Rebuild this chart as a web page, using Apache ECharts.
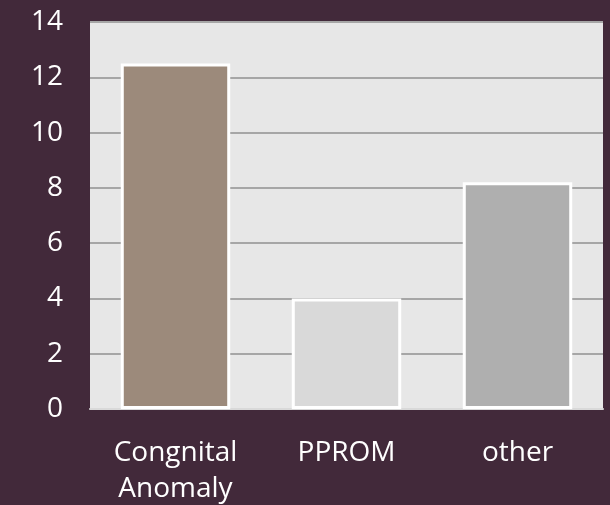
<!DOCTYPE html>
<html>
<head>
<meta charset="utf-8">
<script src="https://cdn.jsdelivr.net/npm/echarts@6/dist/echarts.min.js"></script>
<style>
  html, body { margin: 0; padding: 0; background: #42293a; }
  #chart { width: 610px; height: 505px; }
</style>
</head>
<body>
<div id="chart"></div>
<script>
const categories = ["Congnital\nAnomaly", "PPROM", "other"];
const values = [12.5, 4, 8.2];
const barColors = ["#9c8a7b", "#d9d9d9", "#afafaf"];

const chart = echarts.init(document.getElementById("chart"));
chart.setOption({
    backgroundColor: "#42293a",
    animation: false,
    grid: {
        left: 90, right: 7, top: 22, bottom: 96,
        containLabel: false, outerBoundsMode: "none",
        show: true, backgroundColor: "#e7e7e7", borderWidth: 0
    },
    xAxis: {
        type: "category",
        data: categories,
        axisTick: { show: false },
        axisLine: { lineStyle: { color: "#d9d9d9", width: 2 } },
        axisLabel: {
            color: "#ffffff", fontSize: 28, fontFamily: "Open Sans",
            margin: 26, lineHeight: 36
        }
    },
    yAxis: {
        type: "value",
        min: 0, max: 14, interval: 2,
        axisLine: { show: false },
        axisTick: { show: false },
        splitLine: { lineStyle: { color: "#a6a6a6", width: 2 } },
        axisLabel: { color: "#ffffff", fontSize: 28, fontFamily: "Open Sans", margin: 27 }
    },
    series: [
        {
            type: "bar",
            data: values.map((v, i) => ({ value: v, itemStyle: { color: barColors[i] } })),
            barWidth: "64%",
            itemStyle: { borderColor: "#ffffff", borderWidth: 3 }
        }
    ]
});
</script>
</body>
</html>
